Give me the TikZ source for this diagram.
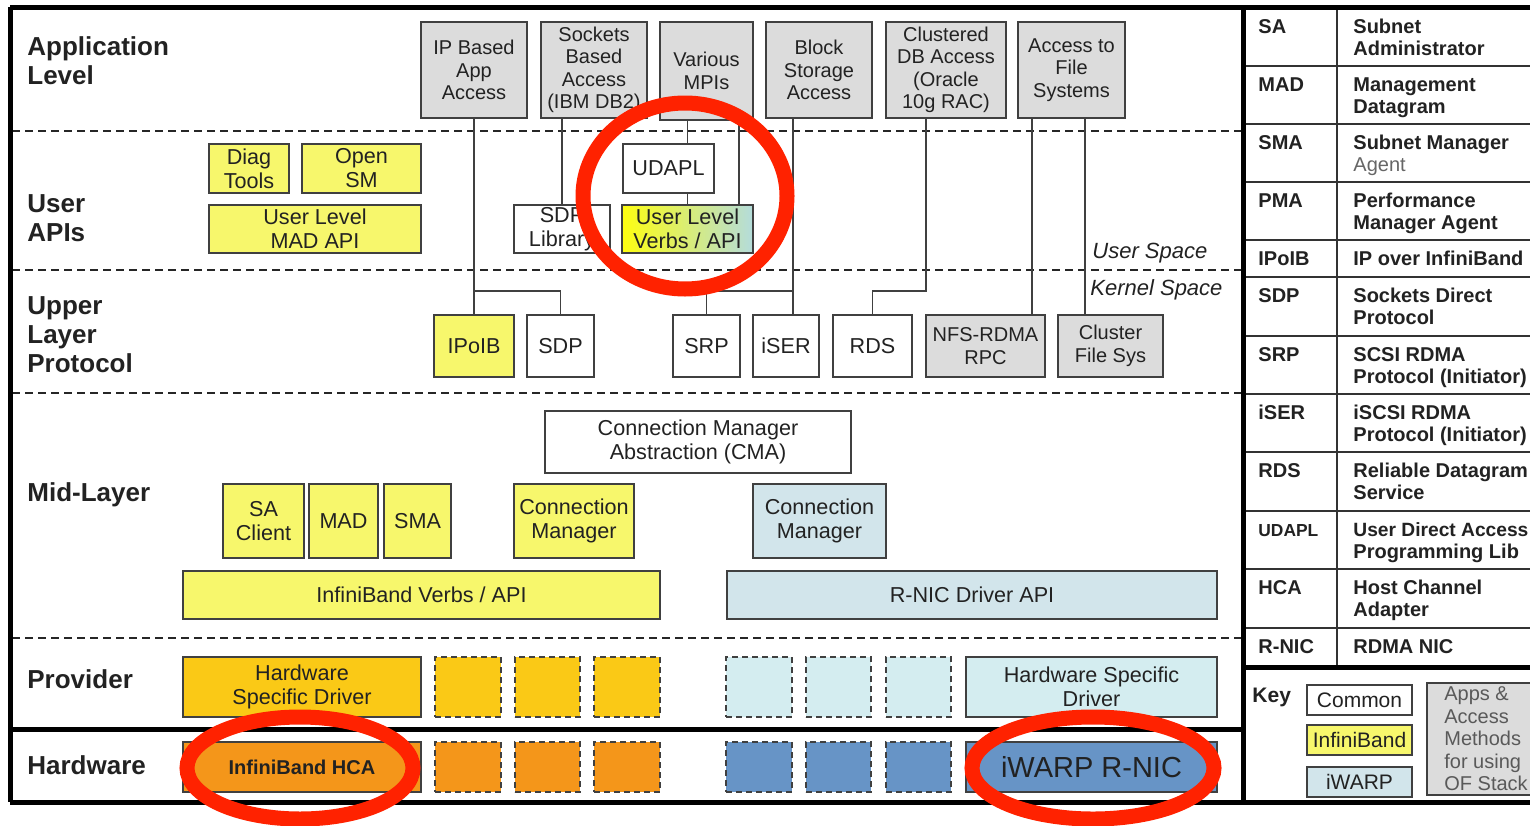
\documentclass[tikz,border=0pt]{standalone}
\usepackage{fontspec}
\setmainfont{Liberation Sans}

\definecolor{appgray}{HTML}{DCDCDC}
\definecolor{ibyellow}{HTML}{F7F76C}
\definecolor{iwblue}{HTML}{D2E5EB}
\definecolor{provib}{HTML}{FAC916}
\definecolor{proviw}{HTML}{D4EDF0}
\definecolor{hwib}{HTML}{F4961A}
\definecolor{hwiw}{HTML}{6794C6}
\definecolor{edge}{HTML}{404040}
\definecolor{ringred}{HTML}{FF2200}
\definecolor{ink}{HTML}{222222}
\definecolor{tealgrad}{HTML}{B4DCDC}

% box from corner (#3,#4) to corner (#5,#6), named #1, styled #2, text #7
% (one unit is half a point)
\newcommand\bx[7]{%
  \pgfmathsetmacro\bxw{(#5-#3)*0.5}%
  \pgfmathsetmacro\bxh{(#6-#4)*0.5}%
  \node[#2, minimum width=\bxw pt, minimum height=\bxh pt]
    (#1) at ({(#3+#5)/2},{(#4+#6)/2}) {#7};}
% one row of the abbreviation table
\newcommand\tabrow[5]{%
  \node[tabtxt, anchor=north west] (#1) at (1258,#3) {\strut #4};
  \node[tabtxt, anchor=north west] (#2) at (1353,#3) {\strut #5};}

\begin{document}
\begin{tikzpicture}[x=0.5pt,y=-0.5pt,
  box/.style={draw=edge, line width=0.7pt, inner sep=0pt, align=center,
    text=ink, fill=white, font=\fontsize{10.8}{12}\selectfont},
  app/.style={box, fill=appgray, font=\fontsize{10}{11.2}\selectfont},
  ib/.style={box, fill=ibyellow},
  iw/.style={box, fill=iwblue},
  pib/.style={box, fill=provib},
  piw/.style={box, fill=proviw},
  hib/.style={box, fill=hwib},
  hiw/.style={box, fill=hwiw},
  stub/.style={dash pattern=on 3pt off 2pt},
  conn/.style={draw=edge, line width=0.6pt},
  sep/.style={draw=black!85, line width=0.6pt, dash pattern=on 4pt off 2.5pt},
  frame/.style={draw=black, line width=2.5pt},
  rule/.style={draw=black!80, line width=1pt},
  lbl/.style={font=\bfseries\fontsize{13}{14.5}\selectfont, align=left,
    anchor=west, inner sep=0pt, text=ink},
  space/.style={font=\itshape\fontsize{11}{12}\selectfont, anchor=west,
    inner sep=0pt, text=ink},
  tabtxt/.style={font=\bfseries\fontsize{10}{11}\selectfont, align=left,
    inner sep=0pt, text=ink},
  ring/.style={draw=ringred, line width=7.5pt},
]
\useasboundingbox (0,0) rectangle (1530,825);
\fill[white] (0,0) rectangle (1530,825);

% layer separators
\draw[sep] (12,131) -- (1241,131);
\draw[sep] (12,270) -- (1241,270);
\draw[sep] (12,393) -- (1241,393);
\draw[sep] (12,638) -- (1241,638);

% layer titles
\node[lbl] (lapp) at (27,61) {Application\\Level};
\node[lbl] (lapi) at (27,218) {User\\APIs};
\node[lbl] (lulp) at (27,335) {Upper\\Layer\\Protocol};
\node[lbl] (lmid) at (27,495) {Mid-Layer};
\node[lbl] (lprov) at (27,679) {Provider};
\node[lbl] (lhw) at (27,765) {Hardware};

\node[space] (uspace) at (1092,253) {User Space};
\node[space] (kspace) at (1090,290) {Kernel Space};

% application level
\bx{ipapp}{app}{421}{22}{527}{118}{IP Based\\App\\Access}
\bx{sock}{app}{541}{22}{647}{118}{Sockets\\Based\\Access\\(IBM DB2)}
\bx{mpi}{app}{660}{22}{753}{120}{Various\\MPIs}
\bx{blk}{app}{766}{22}{872}{118}{Block\\Storage\\Access}
\bx{cdb}{app}{886}{22}{1006}{118}{Clustered\\DB Access\\(Oracle\\10g RAC)}
\bx{afs}{app}{1018}{22}{1125}{118}{Access to\\File\\Systems}

% user APIs
\bx{diag}{ib}{209}{144}{289}{193}{Diag\\Tools}
\bx{osm}{ib}{302}{144}{421}{193}{Open\\SM}
\bx{umad}{ib}{209}{205}{421}{253}{User Level\\MAD API}
\bx{sdplib}{box}{514}{205}{610}{253}{SDP\\Library}
\bx{udapl}{box}{623}{144}{714}{193}{UDAPL}
\bx{ulv}{box, left color=yellow!85!ibyellow, right color=tealgrad}{622}{205}{753}{253}{User Level\\Verbs / API}

% upper layer protocols
\bx{ipoib}{ib}{434}{315}{514}{377}{IPoIB}
\bx{sdp}{box}{527}{315}{594}{377}{SDP}
\bx{srp}{box}{673}{315}{740}{377}{SRP}
\bx{iser}{box}{753}{315}{819}{377}{iSER}
\bx{rds}{box}{833}{315}{912}{377}{RDS}
\bx{nfs}{app}{926}{315}{1045}{377}{NFS-RDMA\\RPC}
\bx{cfs}{app}{1058}{315}{1163}{377}{Cluster\\File Sys}

% mid-layer
\bx{cma}{box}{545}{411}{851}{473}{Connection Manager\\Abstraction (CMA)}
\bx{sacl}{ib}{223}{484}{304}{558}{SA\\Client}
\bx{mad}{ib}{309}{484}{378}{558}{MAD}
\bx{sma}{ib}{384}{484}{451}{558}{SMA}
\bx{cmib}{ib}{514}{484}{634}{558}{Connection\\Manager}
\bx{cmiw}{iw}{753}{484}{886}{558}{Connection\\Manager}
\bx{ibverbs}{ib}{183}{571}{660}{619}{InfiniBand Verbs / API}
\bx{rnicapi}{iw}{727}{571}{1217}{619}{R-NIC Driver API}

% provider
\bx{hsdib}{pib}{183}{657}{421}{717}{Hardware\\Specific Driver}
\bx{pib1}{pib, stub}{435}{657}{501}{717}{}
\bx{pib2}{pib, stub}{515}{657}{580}{717}{}
\bx{pib3}{pib, stub}{594}{657}{660}{717}{}
\bx{piw1}{piw, stub}{726}{657}{792}{717}{}
\bx{piw2}{piw, stub}{806}{657}{871}{717}{}
\bx{piw3}{piw, stub}{886}{657}{951}{717}{}
\bx{hsdiw}{piw}{966}{657}{1217}{717}{Hardware Specific\\Driver}

% hardware
\bx{hca}{hib, font=\bfseries\fontsize{10}{12}\selectfont}{183}{742}{421}{792}{InfiniBand HCA}
\bx{hib1}{hib, stub}{435}{742}{501}{792}{}
\bx{hib2}{hib, stub}{515}{742}{580}{792}{}
\bx{hib3}{hib, stub}{594}{742}{660}{792}{}
\bx{hiw1}{hiw, stub}{726}{742}{792}{792}{}
\bx{hiw2}{hiw, stub}{806}{742}{871}{792}{}
\bx{hiw3}{hiw, stub}{886}{742}{951}{792}{}
\bx{rnic}{hiw, font=\fontsize{14.5}{16}\selectfont}{966}{742}{1217}{792}{iWARP R-NIC}

% connectors
\coordinate (jip) at (474,291);
\coordinate (jmpi) at (739,120);
\coordinate (jblk) at (793,291);
\coordinate (jcdb) at (926,291);
\coordinate (jnfs) at (1032,200);
\coordinate (jcfs) at (1085,200);
\draw[conn] (ipapp.south) -- (ipoib.north);
\draw[conn] (jip) -| (sdp.north);
\draw[conn] (sock.south -| sdplib.north) -- (sdplib.north);
\draw[conn] (mpi.south -| ulv.north) -- (udapl.north -| ulv.north);
\draw[conn] (udapl.south -| ulv.north) -- (ulv.north);
\draw[conn] (jmpi) -- (jmpi |- ulv.north);
\draw[conn] (blk.south -| jblk) -- (iser.north -| jblk);
\draw[conn] (jblk) -| (srp.north);
\draw[conn] (cdb.south -| jcdb) -- (jcdb) -| (rds.north);
\draw[conn] (afs.south -| jnfs) -- (nfs.north -| jnfs);
\draw[conn] (afs.south -| jcfs) -- (cfs.north -| jcfs);

% abbreviation table
\foreach \yy in {66,124,182,240,277,336,394,452,511,569,628}
  \draw[rule] (1243,\yy) -- (1530,\yy);
\draw[rule] (1337,8) -- (1337,667);
\tabrow{aSA}{dSA}{17.6}{SA}{Subnet\\Administrator}
\tabrow{aMAD}{dMAD}{75.6}{MAD}{Management\\Datagram}
\tabrow{aSMA}{dSMA}{133.6}{SMA}{Subnet Manager\\{\mdseries\color{black!60}Agent}}
\tabrow{aPMA}{dPMA}{191.6}{PMA}{Performance\\Manager Agent}
\tabrow{aIPoIB}{dIPoIB}{249.6}{IPoIB}{IP over InfiniBand}
\tabrow{aSDP}{dSDP}{286.6}{SDP}{Sockets Direct\\Protocol}
\tabrow{aSRP}{dSRP}{345.6}{SRP}{SCSI RDMA\\Protocol (Initiator)}
\tabrow{aiSER}{diSER}{403.6}{iSER}{iSCSI RDMA\\Protocol (Initiator)}
\tabrow{aRDS}{dRDS}{461.6}{RDS}{Reliable Datagram\\Service}
\tabrow{aUDAPL}{dUDAPL}{520.6}{{\fontsize{8.7}{11}\selectfont UDAPL}}{{\fontsize{9.6}{11}\selectfont User Direct Access}\\Programming Lib}
\tabrow{aHCA}{dHCA}{578.6}{HCA}{Host Channel\\Adapter}
\tabrow{aRNIC}{dRNIC}{637.6}{R-NIC}{RDMA NIC}

% key
\node[tabtxt, font=\bfseries\fontsize{10.5}{12}\selectfont, anchor=west] (key) at (1252,697) {Key};
\bx{kcommon}{box, font=\fontsize{10.5}{12}\selectfont}{1307}{685}{1412}{715}{Common}
\bx{kib}{ib, font=\fontsize{10.5}{12}\selectfont}{1307}{725}{1412}{755}{InfiniBand}
\bx{kiw}{iw, font=\fontsize{10.5}{12}\selectfont}{1307}{767}{1412}{797}{iWARP}
\bx{kapps}{app, align=left, text=black!65, font=\fontsize{10}{11.25}\selectfont}{1427}{683}{1545}{795}{Apps \&\\Access\\Methods\\for using\\OF Stack}

% outer frame
\draw[frame] (10,7) -- (1530,7);
\draw[frame] (10,802) -- (1530,802);
\draw[frame] (10,7) -- (10,802);
\draw[frame] (1243,7) -- (1243,802);
\draw[frame] (10,729) -- (1243,729);
\draw[frame] (1243,667) -- (1530,667);

% highlight rings
\draw[ring] (685,196) ellipse [x radius=51pt, y radius=46.5pt];
\draw[ring] (300,768) ellipse [x radius=56.5pt, y radius=25.5pt];
\draw[ring] (1093,768) ellipse [x radius=60.5pt, y radius=25.5pt];
\end{tikzpicture}
\end{document}
